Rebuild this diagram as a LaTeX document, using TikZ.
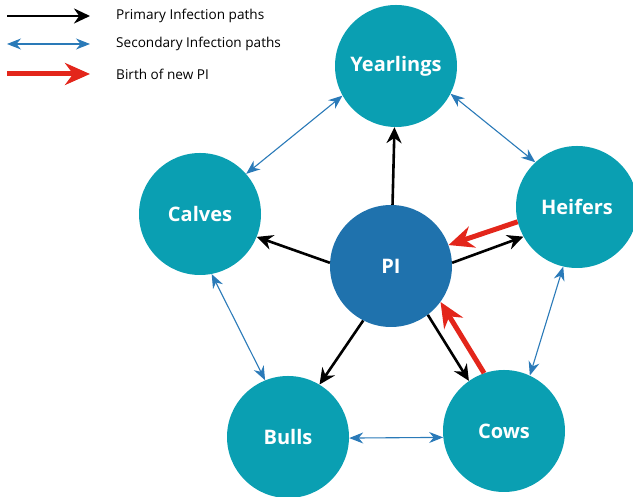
\documentclass[tikz,border=0pt]{standalone}
\usepackage{fontspec}
\setmainfont{Open Sans}
\usetikzlibrary{arrows.meta}
\definecolor{herdteal}{HTML}{0A9FB2}
\definecolor{piblue}{HTML}{1F72AD}
\definecolor{pathblue}{HTML}{2A7AB8}
\definecolor{birthred}{HTML}{E3261B}

\begin{document}
\begin{tikzpicture}[x=1pt,y=1pt,
  herd/.style={circle,fill=herdteal,minimum size=122pt,inner sep=0pt,text=white,font=\fontsize{20}{24}\selectfont\bfseries},
  primary/.style={black,line width=2.6pt,-{Stealth[length=16pt,width=15pt]}},
  secondary/.style={pathblue,line width=1.1pt,{Stealth[length=14pt,width=11pt]}-{Stealth[length=14pt,width=11pt]}},
  birth/.style={birthred,line width=5pt,-{Stealth[length=25pt,width=22pt]}},
  legendtext/.style={anchor=west,inner sep=0pt,font=\fontsize{13.6}{16}\selectfont}]
\useasboundingbox (0,0) rectangle (633,497);

\coordinate (Y) at (396,431);
\coordinate (C) at (200,283);
\coordinate (H) at (577,290);
\coordinate (P) at (391,231);
\coordinate (B) at (288,60);
\coordinate (W) at (504,66);

% legend
\coordinate (l1a) at (7,481);
\coordinate (l1b) at (90,481);
\coordinate (l2a) at (7,453);
\coordinate (l2b) at (90,453);
\coordinate (l3a) at (7,423);
\coordinate (l3b) at (90,423);
\draw[primary] (l1a) -- (l1b);
\draw[secondary] (l2a) -- (l2b);
\draw[birth] (l3a) -- (l3b);
\node[legendtext] (t1) at (116,481) {Primary Infection paths};
\node[legendtext] (t2) at (116,453) {Secondary Infection paths};
\node[legendtext] (t3) at (116,423) {Birth of new PI};

% groups
\node[herd] (yearlings) at (Y) {Yearlings};
\node[herd] (calves) at (C) {Calves};
\node[herd] (heifers) at (H) {Heifers};
\node[herd] (bulls) at (B) {Bulls};
\node[herd] (cows) at (W) {Cows};
\node[herd,fill=piblue] (pi) at (P) {PI};

% primary infection
\draw[primary] (pi) -- (yearlings);
\draw[primary] (pi.177) -- (calves.338);
\draw[primary] (pi.3) -- (heifers.209);
\draw[primary] (pi.243) -- (bulls.59);
\draw[primary] (pi.307) -- (cows.125);

% secondary infection
\draw[secondary] (yearlings.209) -- (calves.41);
\draw[secondary] (yearlings.333) -- (heifers.133);
\draw[secondary] (heifers.257) -- (cows.65);
\draw[secondary] (cows.186) -- (bulls.359);
\draw[secondary] (bulls.112) -- (calves.281);

% new PI born
\draw[birth] (heifers.194) -- (pi.20);
\draw[birth] (cows.109) -- (pi.324);

\end{tikzpicture}
\end{document}
